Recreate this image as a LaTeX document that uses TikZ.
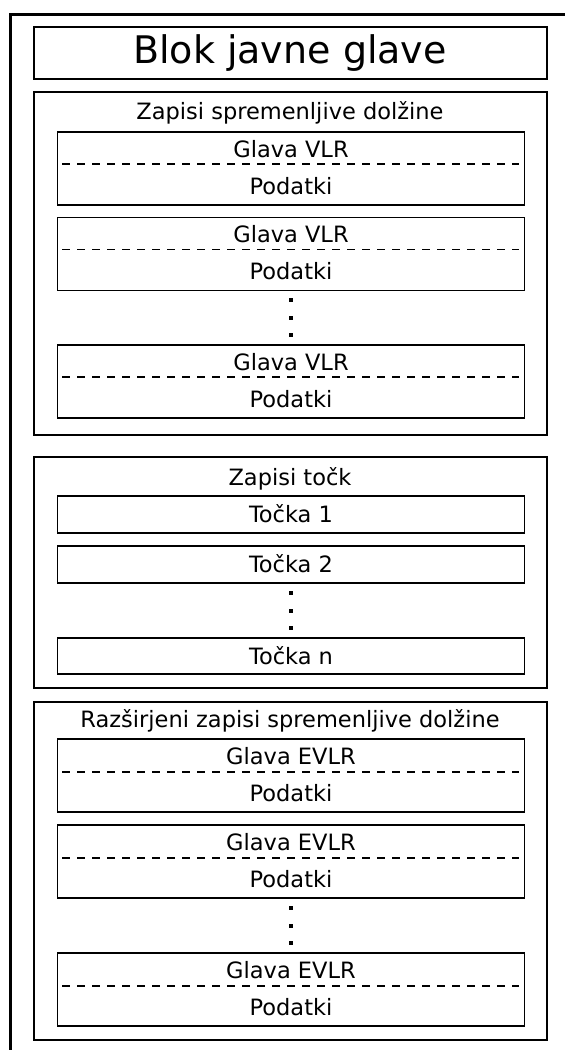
\documentclass[tikz,border=0pt]{standalone}
\usepackage{fontspec}
\setmainfont{DejaVu Sans}
\begin{document}
\begin{tikzpicture}[x=1pt,y=-1pt,
  frameline/.style={line width=3pt},
  secbox/.style={draw, line width=2pt, inner sep=0pt, outer sep=0pt, anchor=north west, minimum width=513pt},
  recbox/.style={draw, line width=1.6pt, inner sep=0pt, outer sep=0pt, anchor=north west, minimum width=467pt},
  txt/.style={inner sep=0pt, anchor=base, font=\fontsize{22.5}{27}\selectfont},
  bigtxt/.style={inner sep=0pt, font=\fontsize{38}{45}\selectfont},
  dashline/.style={line width=1.5pt, dash pattern=on 7.5pt off 7.5pt, shorten <=4.5pt, shorten >=6pt},
  dotsq/.style={fill=black, inner sep=0pt, minimum size=4pt}]
\useasboundingbox (0,0) rectangle (565,1050);
% outer frame
\coordinate (fb) at (10.5,1050);
\coordinate (fc) at (10.5,14);
\coordinate (fr) at (565,14);
\draw[frameline] (fb) -- (fc) -- (fr);
% title
\node[secbox, minimum height=51.5pt] (title) at (33.5,27) {};
\node[bigtxt] (titletxt) at (title.center) {Blok javne glave};
% section 1
\node[secbox, minimum height=342.5pt] (s1) at (33.5,92) {};
\node[txt] (s1t) at (290,119) {Zapisi spremenljive dolžine};
\foreach \n/\y in {a/132, b/217.5, c/345}{
  \node[recbox, minimum height=73pt] (v\n) at (57.5,\y) {};
  \draw[dashline] ([yshift=-32pt]v\n.north west) -- ([yshift=-32pt]v\n.north east);
  \node[txt] (v\n h) at ([yshift=-25pt]v\n.north) {Glava VLR};
  \node[txt] (v\n d) at ([yshift=-62pt]v\n.north) {Podatki};
}
\foreach \i/\y in {1/300,2/317.5,3/335}{\node[dotsq] (da\i) at (291,\y) {};}
% section 2
\node[secbox, minimum height=231pt] (s2) at (33.5,456.5) {};
\node[txt] (s2t) at (290,485) {Zapisi točk};
\node[recbox, minimum height=37pt] (t1) at (57.5,496) {};
\node[txt] at ([yshift=-26.5pt]t1.north) {Točka 1};
\node[recbox, minimum height=37pt] (t2) at (57.5,546) {};
\node[txt] at ([yshift=-26.5pt]t2.north) {Točka 2};
\node[recbox, minimum height=36pt] (tn) at (57.5,638) {};
\node[txt] at ([yshift=-26pt]tn.north) {Točka n};
\foreach \i/\y in {1/593,2/610.5,3/628}{\node[dotsq] (db\i) at (291,\y) {};}
% section 3
\node[secbox, minimum height=338pt] (s3) at (33.5,702) {};
\node[txt] (s3t) at (290,727) {Razširjeni zapisi spremenljive dolžine};
\foreach \n/\y in {a/739, b/825, c/953}{
  \node[recbox, minimum height=73pt] (e\n) at (57.5,\y) {};
  \draw[dashline] ([yshift=-33pt]e\n.north west) -- ([yshift=-33pt]e\n.north east);
  \node[txt] (e\n h) at ([yshift=-25pt]e\n.north) {Glava EVLR};
  \node[txt] (e\n d) at ([yshift=-62pt]e\n.north) {Podatki};
}
\foreach \i/\y in {1/908,2/925.5,3/943}{\node[dotsq] (dc\i) at (291,\y) {};}
\end{tikzpicture}
\end{document}
